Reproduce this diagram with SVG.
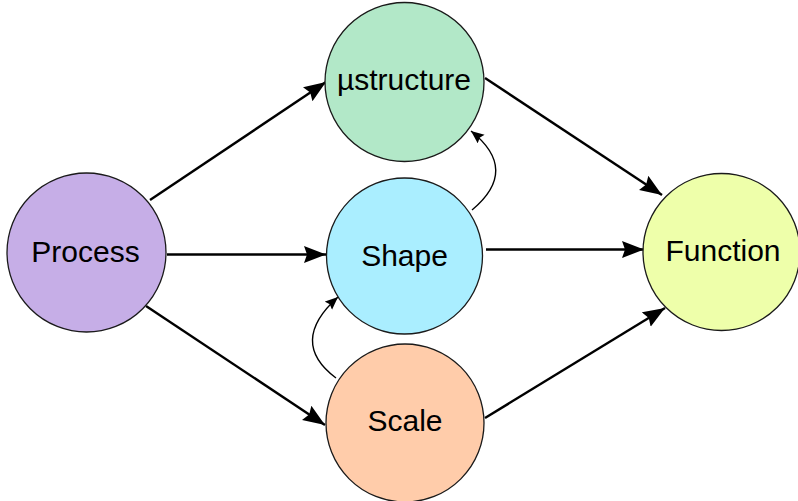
<svg xmlns="http://www.w3.org/2000/svg" width="798" height="501" viewBox="0 0 798 501">
  <style>
    .node { stroke: #1a1a1a; stroke-width: 1.3; }
    .label { font-family: "Liberation Sans", Arial, sans-serif; font-size: 30px; fill: #000; text-anchor: middle; }
    .edge { fill: none; stroke: #000; stroke-width: 2.4; }
    .bend { fill: none; stroke: #000; stroke-width: 1.4; }
  </style>
  <defs>
    <marker id="arrow" markerUnits="userSpaceOnUse" markerWidth="24" markerHeight="18" refX="22" refY="8.5" orient="auto">
      <path d="M0,0 L22,8.5 L0,17 L3,8.5 z" fill="#000"/>
    </marker>
    <marker id="arrowSmall" markerUnits="userSpaceOnUse" markerWidth="14" markerHeight="12" refX="13" refY="5.5" orient="auto">
      <path d="M0,0 L13,5.5 L0,11 L2,5.5 z" fill="#000"/>
    </marker>
  </defs>

  <g id="connectors">
    <line class="edge" x1="150" y1="200" x2="326" y2="82" marker-end="url(#arrow)"/>
    <line class="edge" x1="167" y1="254.5" x2="326" y2="254.5" marker-end="url(#arrow)"/>
    <line class="edge" x1="146" y1="306" x2="325" y2="425" marker-end="url(#arrow)"/>
    <line class="edge" x1="485" y1="78" x2="662" y2="195" marker-end="url(#arrow)"/>
    <line class="edge" x1="486" y1="249.5" x2="644" y2="249.5" marker-end="url(#arrow)"/>
    <line class="edge" x1="485" y1="418" x2="665" y2="308" marker-end="url(#arrow)"/>
    <path class="bend" d="M472,210 Q520,170 471,131" marker-end="url(#arrowSmall)"/>
    <path class="bend" d="M336,378 Q288,342 338,297" marker-end="url(#arrowSmall)"/>
  </g>

  <g id="process">
    <circle class="node" cx="86.5" cy="252.5" r="79.5" fill="#c6aee7"/>
    <text class="label" x="85.5" y="262">Process</text>
  </g>
  <g id="microstructure">
    <circle class="node" cx="404.5" cy="82" r="79.5" fill="#b2e8c8"/>
    <text class="label" x="404" y="90">µstructure</text>
  </g>
  <g id="shape">
    <circle class="node" cx="404.5" cy="256" r="78" fill="#aaeeff"/>
    <text class="label" x="404.5" y="265.5">Shape</text>
  </g>
  <g id="scale">
    <circle class="node" cx="405" cy="423" r="79" fill="#ffccaa"/>
    <text class="label" x="405" y="431">Scale</text>
  </g>
  <g id="function">
    <circle class="node" cx="721.5" cy="252" r="78.5" fill="#eeffaa"/>
    <text class="label" x="723" y="261">Function</text>
  </g>
</svg>
